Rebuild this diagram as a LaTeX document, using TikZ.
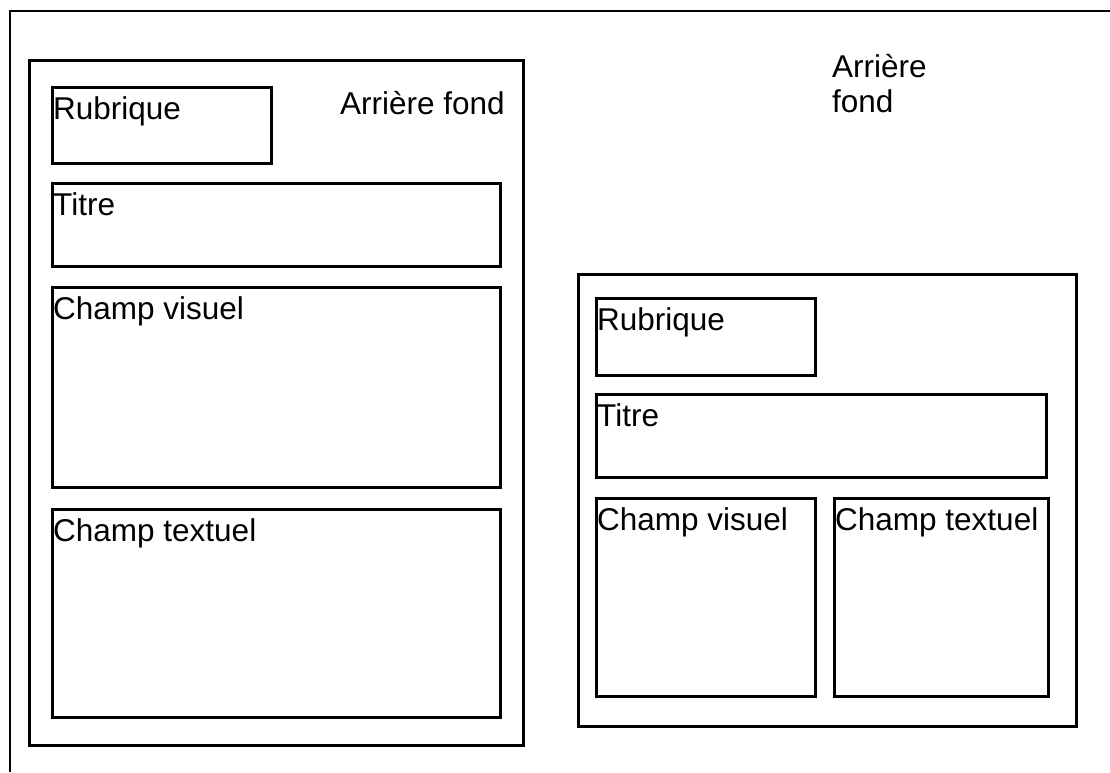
\documentclass[tikz,border=0pt]{standalone}
\usepackage{fontspec}
\setmainfont{Liberation Sans}
\tikzset{
  cadre/.style={draw, line width=2.6pt, rectangle, inner sep=0pt, anchor=north west},
  etiq/.style={anchor=base west, inner sep=0pt, align=left, font=\fontsize{31.5}{35}\selectfont}
}
\begin{document}
\begin{tikzpicture}[x=1pt,y=-1pt]
\useasboundingbox (0,0) rectangle (1110,772);
	%fond
	\coordinate (fond) at (10,11);
	\coordinate (fond haut) at (1110,11);
	\coordinate (fond bas) at (10,772);
	\draw[line width=2.6pt] (fond haut) -- (fond) -- (fond bas);
	%maquettes
	\node[cadre, minimum width=494, minimum height=685] (gauche) at (28,59) {};
	\node[cadre, minimum width=498, minimum height=452] (droite) at (577,273) {};
	%blocs
	\foreach \nom/\x/\y/\w/\h/\txt in {
	    gRub/51/86/219/76/Rubrique,
	    gTit/51/182/448/83/Titre,
	    gVis/51/286/448/200/Champ visuel,
	    gTex/51/508/448/208/Champ textuel,
	    dRub/595/297/219/77/Rubrique,
	    dTit/595/393/450/83/Titre,
	    dVis/595/497/219/198/Champ visuel,
	    dTex/833/497/214/198/Champ textuel}
	{
		\node[cadre, minimum width=\w, minimum height=\h] (\nom) at (\x,\y) {};
		\node[etiq] (\nom txt) at ([xshift=2pt, yshift=-33pt]\nom.north west) {\txt};
	}
%labels
\node[etiq] (fondg) at (340,114) {Arrière fond};
\node[etiq] (fondd) at (832,112) {Arrière\\fond};
\end{tikzpicture}
\end{document}
